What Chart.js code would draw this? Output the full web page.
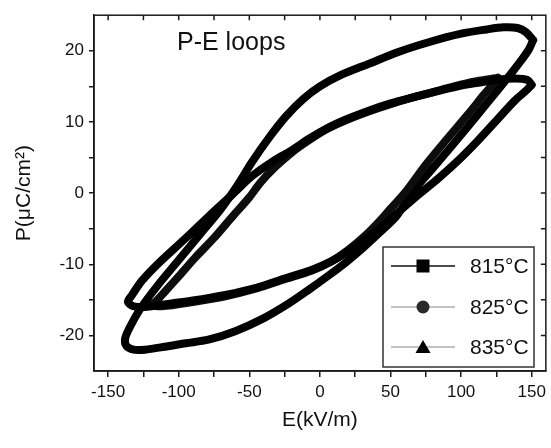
<!DOCTYPE html>
<html>
<head>
<meta charset="utf-8">
<script src="https://cdn.jsdelivr.net/npm/chart.js@4.4.1/dist/chart.umd.min.js"></script>
<style>
  html, body { margin: 0; padding: 0; background: #fff; }
  #wrap { width: 551px; height: 448px; }
</style>
</head>
<body>
<div id="wrap"><canvas id="peChart" width="551" height="448"></canvas></div>
<script>
// sample labels and tick values
const sampleLabels = ['815°C', '825°C', '835°C'];
const xTickValues = [-150, -125, -100, -75, -50, -25, 0, 25, 50, 75, 100, 125, 150];
const yTickValues = [-20, -15, -10, -5, 0, 5, 10, 15, 20];

// 815°C loop (E in kV/m, P in uC/cm2)
const e815 = [150,147,138,125,112,100,85,65,50,35,18,6,-8,-20,-33,-48,-62,-79,-96,-114,-126,-133,-136,-132,-124,-112,-90,-67,-45,-25,-6,8,20,32,44,56,70,84,98,112,125,138,146,150];
const p815 = [15.2,15.9,16.1,15.9,15.5,15.1,14.4,13.4,12.6,11.6,10.3,9.2,7.6,6.0,4.5,2.4,-0.2,-3.3,-6.5,-9.8,-12.3,-14.3,-15.3,-15.9,-16.0,-15.7,-15.1,-14.3,-13.3,-12.0,-10.8,-9.6,-8.2,-6.5,-4.7,-2.6,-0.2,2.1,4.6,7.4,10.2,13.0,14.4,15.2];

// 825°C loop
const e825 = [126,120,110,95,80,65,50,35,18,5,-8,-20,-32,-42,-50,-62,-75,-88,-100,-110,-116,-119,-112,-90,-67,-45,-25,-6,8,20,32,42,50,60,75,90,105,116,122,126];
const p825 = [16.2,16.0,15.7,15.0,14.2,13.4,12.5,11.5,10.2,9.0,7.4,5.7,3.6,1.5,-0.6,-3.3,-6.3,-9.0,-11.7,-13.9,-15.2,-15.7,-15.9,-15.3,-14.5,-13.4,-12.1,-10.9,-9.6,-8.0,-6.0,-4.0,-2.2,0.0,4.0,7.6,11.1,13.8,15.2,16.2];

// 835°C loop
const e835 = [151,146,140,130,118,100,77,55,35,15,0,-12,-24,-36,-48,-58,-70,-85,-100,-115,-127,-135,-138,-137,-132,-124,-110,-95,-79,-60,-40,-22,-8,6,18,30,42,54,65,80,95,110,124,135,142,148,151];
const p835 = [21.5,22.6,23.2,23.3,23.0,22.4,21.2,19.8,18.2,16.6,15.0,13.2,10.8,7.8,4.4,1.2,-2.2,-5.8,-9.4,-13.0,-16.2,-19.0,-20.5,-21.5,-22.0,-22.0,-21.6,-21.1,-20.6,-19.4,-17.6,-15.5,-13.6,-11.6,-9.8,-7.8,-5.6,-3.3,0.0,3.5,7.0,10.6,14.0,16.7,18.5,20.2,21.5];

const FONT = "'Liberation Sans', Arial, sans-serif";

function toPoints(es, ps) {
  return es.map((e, i) => ({ x: e, y: ps[i] }));
}

function loopDataset(label, es, ps, color, pointStyle) {
  return {
    label: label,
    data: toPoints(es, ps),
    showLine: true,
    borderColor: color,
    backgroundColor: color,
    borderWidth: 8,
    borderCapStyle: 'round',
    borderJoinStyle: 'round',
    pointRadius: 0,
    pointHoverRadius: 0,
    pointStyle: pointStyle,
    tension: 0.3
  };
}

// frame, mirrored inward ticks, inset title and boxed legend
const framePlugin = {
  id: 'frame',
  afterDraw(chart) {
    const ctx = chart.ctx;
    const a = chart.chartArea;
    const xs = chart.scales.x;
    const ys = chart.scales.y;
    ctx.save();
    ctx.strokeStyle = '#1a1a1a';
    ctx.lineWidth = 1.5;
    ctx.strokeRect(a.left, a.top, a.right - a.left, a.bottom - a.top);

    ctx.beginPath();
    xs.ticks.forEach(t => {
      const px = xs.getPixelForValue(t.value);
      ctx.moveTo(px, a.top);
      ctx.lineTo(px, a.top + 5);
    });
    ys.ticks.forEach(t => {
      const py = ys.getPixelForValue(t.value);
      ctx.moveTo(a.right, py);
      ctx.lineTo(a.right - 5, py);
    });
    ctx.stroke();

    // inset label
    ctx.fillStyle = '#111';
    ctx.font = '25px ' + FONT;
    ctx.textBaseline = 'middle';
    ctx.textAlign = 'left';
    ctx.fillText('P-E loops', 177, 43);

    // legend box
    const bx = 383, by = 247, bw = 151, bh = 120;
    ctx.fillStyle = '#fff';
    ctx.fillRect(bx, by, bw, bh);
    ctx.strokeStyle = '#333';
    ctx.lineWidth = 1.5;
    ctx.strokeRect(bx, by, bw, bh);

    const rows = [266, 307, 347];
    chart.data.datasets.forEach((ds, i) => {
      const y = rows[i];
      ctx.beginPath();
      ctx.strokeStyle = i === 0 ? '#111' : '#888';
      ctx.lineWidth = i === 0 ? 1.5 : 1;
      ctx.moveTo(391, y);
      ctx.lineTo(455, y);
      ctx.stroke();

      ctx.fillStyle = i === 1 ? '#2a2a2a' : '#000';
      ctx.beginPath();
      if (ds.pointStyle === 'rect') {
        ctx.rect(423 - 6.5, y - 6.5, 13, 13);
      } else if (ds.pointStyle === 'circle') {
        ctx.arc(423, y, 6.5, 0, Math.PI * 2);
      } else {
        ctx.moveTo(423, y - 7);
        ctx.lineTo(430.5, y + 6);
        ctx.lineTo(415.5, y + 6);
        ctx.closePath();
      }
      ctx.fill();

      ctx.fillStyle = '#111';
      ctx.font = '21px ' + FONT;
      ctx.textAlign = 'left';
      ctx.textBaseline = 'middle';
      ctx.fillText(ds.label, 470, y + 1);
    });
    ctx.restore();
  }
};

const ctx = document.getElementById('peChart').getContext('2d');

new Chart(ctx, {
  type: 'scatter',
  data: {
    datasets: [
      loopDataset(sampleLabels[0], e815, p815, '#000', 'rect'),
      loopDataset(sampleLabels[1], e825, p825, '#0d0d0d', 'circle'),
      loopDataset(sampleLabels[2], e835, p835, '#000', 'triangle')
    ]
  },
  options: {
    responsive: false,
    animation: false,
    events: [],
    layout: { padding: { top: 7, right: 3, left: 0, bottom: 0 } },
    plugins: {
      legend: { display: false },
      tooltip: { enabled: false }
    },
    scales: {
      x: {
        type: 'linear',
        min: -160,
        max: 160,
        afterBuildTicks: (s) => { s.ticks = xTickValues.map(v => ({ value: v })); },
        afterFit: (s) => { s.height = 77; },
        grid: { drawOnChartArea: false, drawTicks: true, tickLength: 6, color: '#1a1a1a', lineWidth: 1.5 },
        border: { display: true, color: '#1a1a1a', width: 1.5 },
        ticks: {
          color: '#111',
          padding: 5,
          maxRotation: 0,
          autoSkip: false,
          font: { family: FONT, size: 17 },
          callback: (v) => (v % 50 === 0 ? String(v) : '')
        },
        title: {
          display: true,
          text: 'E(kV/m)',
          color: '#111',
          font: { family: FONT, size: 21 },
          padding: { top: 0, bottom: 15 }
        }
      },
      y: {
        type: 'linear',
        min: -25,
        max: 25,
        afterBuildTicks: (s) => { s.ticks = yTickValues.map(v => ({ value: v })); },
        afterFit: (s) => { s.width = 94; },
        grid: { drawOnChartArea: false, drawTicks: true, tickLength: 5, color: '#1a1a1a', lineWidth: 1.5 },
        border: { display: true, color: '#1a1a1a', width: 1.5 },
        ticks: {
          color: '#111',
          padding: 5,
          autoSkip: false,
          font: { family: FONT, size: 17 },
          callback: (v) => (v % 10 === 0 ? String(v) : '')
        },
        title: {
          display: true,
          text: 'P(\u03bcC/cm\u00b2)',
          color: '#111',
          font: { family: FONT, size: 21 },
          padding: { top: 12, bottom: 0 }
        }
      }
    }
  },
  plugins: [framePlugin]
});
</script>
</body>
</html>
